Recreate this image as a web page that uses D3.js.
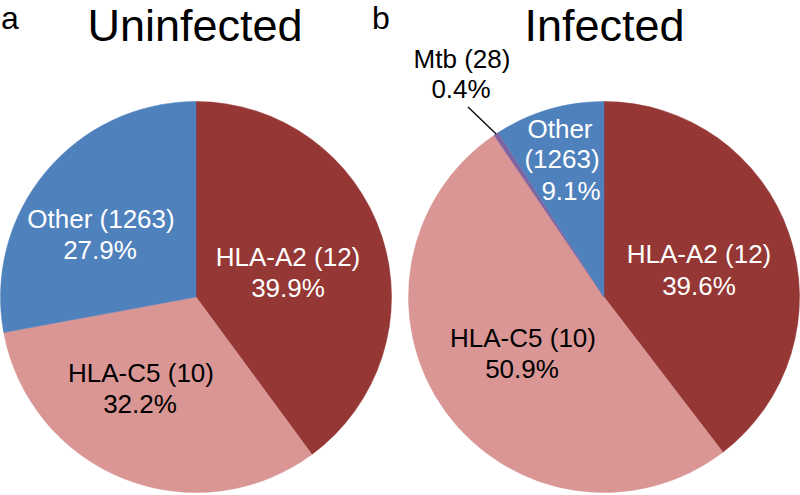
<!DOCTYPE html>
<html>
<head>
<meta charset="utf-8">
<script src="https://cdn.jsdelivr.net/npm/d3@7"></script>
<style>
  html, body { margin: 0; padding: 0; background: #fff; }
  svg { display: block; font-family: "Liberation Sans", Arial, sans-serif; }
</style>
</head>
<body>
<svg id="chart" width="800" height="495"></svg>
<script>
// ---- data ----
const uninfectedCategories = ["HLA-A2 (12)", "HLA-C5 (10)", "Other (1263)"];
const uninfectedValues = [39.9, 32.2, 27.9];
const infectedCategories = ["HLA-A2 (12)", "HLA-C5 (10)", "Mtb (28)", "Other (1263)"];
const infectedValues = [39.6, 50.9, 0.4, 9.1];
const panelLetters = ["a", "b"];
const panelTitles = ["Uninfected", "Infected"];

// ---- styles / layout ----
const colorOf = {
  "HLA-A2 (12)": "#953735",
  "HLA-C5 (10)": "#D99694",
  "Mtb (28)": "#8064A2",
  "Other (1263)": "#4F81BD"
};
const textColorOf = {
  "HLA-A2 (12)": "#fff",
  "HLA-C5 (10)": "#000",
  "Mtb (28)": "#000",
  "Other (1263)": "#fff"
};
const radius = 195.5;
const fontSize = 26;

// label layout: offsets from pie centre for each line (centre x, baseline y)
const panels = [
  {
    cx: 196, cy: 297, letterX: 1, titleX: 195,
    categories: uninfectedCategories, values: uninfectedValues,
    labels: {
      "HLA-A2 (12)": [{ text: d => d.cat, dx: 92, dy: -31 }, { text: d => d.pct, dx: 92, dy: 0 }],
      "HLA-C5 (10)": [{ text: d => d.cat, dx: -55, dy: 85 }, { text: d => d.pct, dx: -56, dy: 116 }],
      "Other (1263)": [{ text: d => d.cat, dx: -95, dy: -69 }, { text: d => d.pct, dx: -96, dy: -38 }]
    }
  },
  {
    cx: 604, cy: 297, letterX: 372, titleX: 604.5,
    categories: infectedCategories, values: infectedValues,
    labels: {
      "HLA-A2 (12)": [{ text: d => d.cat, dx: 95, dy: -34 }, { text: d => d.pct, dx: 95, dy: -2 }],
      "HLA-C5 (10)": [{ text: d => d.cat, dx: -81, dy: 50 }, { text: d => d.pct, dx: -82, dy: 81 }],
      "Mtb (28)": [{ text: d => d.cat, dx: -142, dy: -229 }, { text: d => d.pct, dx: -143, dy: -199 }],
      "Other (1263)": [{ text: d => "Other", dx: -44, dy: -159 }, { text: d => "(1263)", dx: -42, dy: -129 }, { text: d => d.pct, dx: -33, dy: -97 }]
    },
    leader: { cat: "Mtb (28)", from: [-136, -190] }
  }
];

const svg = d3.select("#chart");

const pie = d3.pie().sort(null).value(d => d.value);
const arc = d3.arc().innerRadius(0).outerRadius(radius);

panels.forEach((p, i) => {
  const data = p.categories.map((c, k) => ({ cat: c, value: p.values[k], pct: d3.format(".1f")(p.values[k]) + "%" }));
  const arcs = pie(data);

  // panel letter
  svg.append("text")
    .attr("x", p.letterX).attr("y", 29)
    .attr("font-size", 32).attr("fill", "#000")
    .text(panelLetters[i]);

  // title
  svg.append("text")
    .attr("x", p.titleX).attr("y", 41)
    .attr("text-anchor", "middle")
    .attr("font-size", 45).attr("fill", "#000")
    .text(panelTitles[i]);

  const g = svg.append("g").attr("transform", `translate(${p.cx},${p.cy})`);

  g.selectAll("path.slice")
    .data(arcs)
    .join("path")
    .attr("class", "slice")
    .attr("d", arc)
    .attr("fill", d => colorOf[d.data.cat])
    .attr("stroke", d => colorOf[d.data.cat])
    .attr("stroke-width", 0.5);

  // leader line
  if (p.leader) {
    const a = arcs.find(d => d.data.cat === p.leader.cat);
    const mid = (a.startAngle + a.endAngle) / 2;
    g.append("line")
      .attr("x1", p.leader.from[0]).attr("y1", p.leader.from[1])
      .attr("x2", Math.sin(mid) * radius).attr("y2", -Math.cos(mid) * radius)
      .attr("stroke", "#000").attr("stroke-width", 1.3);
  }

  // labels
  arcs.forEach(a => {
    const lines = p.labels[a.data.cat];
    lines.forEach(l => {
      g.append("text")
        .attr("x", l.dx).attr("y", l.dy)
        .attr("text-anchor", "middle")
        .attr("font-size", fontSize)
        .attr("fill", textColorOf[a.data.cat])
        .text(l.text(a.data));
    });
  });
});
</script>
</body>
</html>
